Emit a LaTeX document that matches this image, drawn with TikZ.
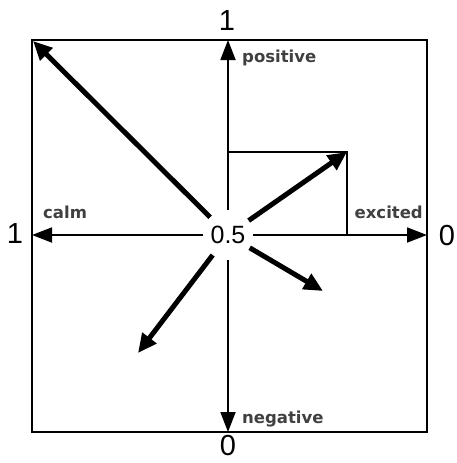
\documentclass[tikz,border=0pt]{standalone}
\usepackage{fontspec}
\setmainfont{Liberation Sans}
\newfontfamily\labelfont{DejaVu Sans}
\usetikzlibrary{arrows.meta,positioning,calc}

\begin{document}
\begin{tikzpicture}[x=1pt, y=-1pt,
    axis/.style={line width=1.8pt, -{Triangle[length=20pt, width=15pt]}},
    move/.style={line width=5pt, -{Triangle[length=19pt, width=17pt]}},
    word/.style={font=\labelfont\bfseries\fontsize{16.5}{18}\selectfont, text=black!75, inner sep=0pt},
    digit/.style={font=\fontsize{29}{32}\selectfont, inner sep=0pt}]
    \useasboundingbox (0, 0) rectangle (456, 463);

    % Frame
    \draw[line width=2.2pt] (32, 40) rectangle (427, 432);

    % Centre
    \node[circle, minimum size=50pt, inner sep=0pt, font=\fontsize{25}{28}\selectfont] (c) at (228, 235) {0.5};

    % Axis ends
    \coordinate (top) at (228, 40);
    \coordinate (bottom) at (228, 432);
    \coordinate (left) at (32, 235);
    \coordinate (right) at (427, 235);

    % Arrow ends
    \coordinate (tl) at (33, 41);
    \coordinate (ur) at (347, 152);
    \coordinate (ll) at (138, 353);
    \coordinate (lr) at (323, 291);

    % Projection box
    \draw[line width=1.8pt] (c |- ur) -- (ur) -- (ur |- c);

    % Axes
    \draw[axis] (c) -- (top);
    \draw[axis] (c) -- (bottom);
    \draw[axis] (c) -- (left);
    \draw[axis] (c) -- (right);

    % Movements
    \draw[move] (c) -- (tl);
    \draw[move] (c) -- (ur);
    \draw[move] (c) -- (ll);
    \draw[move] (c) -- (lr);

    % Axis values
    \node[digit] (vtop) at (227, 21) {1};
    \node[digit] (vbottom) at (228, 446) {0};
    \node[digit] (vleft) at (15, 234) {1};
    \node[digit] (vright) at (447, 236) {0};

    % Axis names
    \node[word, anchor=base west] (pos) at (242, 62) {positive};
    \node[word, anchor=base west] (neg) at (242, 423) {negative};
    \node[word, anchor=base west] (calm) at (43, 218) {calm};
    \node[word, anchor=base east] (exc) at (423, 218) {excited};
\end{tikzpicture}
\end{document}
